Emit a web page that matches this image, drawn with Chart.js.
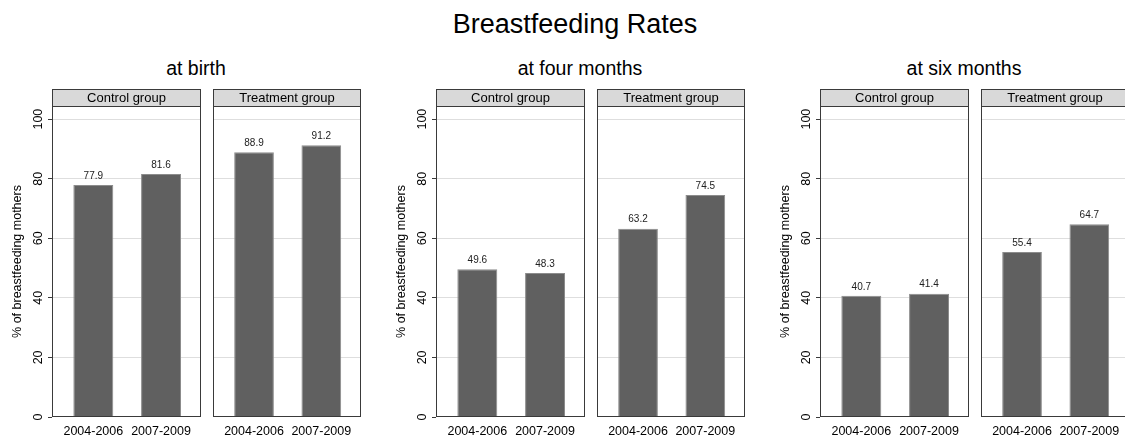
<!DOCTYPE html>
<html>
<head>
<meta charset="utf-8">
<title>Breastfeeding Rates</title>
<script src="https://cdn.jsdelivr.net/npm/chart.js@4.4.1/dist/chart.umd.min.js"></script>
<style>
  html, body { margin: 0; padding: 0; background: #fff; overflow: hidden; }
  body { width: 1125px; height: 436px; position: relative; font-family: "Liberation Sans", Arial, sans-serif; color: #000; }
  .title { position: absolute; white-space: nowrap; transform: translateX(-50%); line-height: 1; }
  canvas { position: absolute; }
</style>
</head>
<body>
<div class="title" style="left:575px; top:11px; font-size:27px;">Breastfeeding Rates</div>
<script>
const periods = ['2004-2006', '2007-2009'];
const groups = ['Control group', 'Treatment group'];
const panels = ['at birth', 'at four months', 'at six months'];
const controlRates = [[77.9, 81.6], [49.6, 48.3], [40.7, 41.4]];
const treatmentRates = [[88.9, 91.2], [63.2, 74.5], [55.4, 64.7]];
const yTicks = [0, 20, 40, 60, 80, 100];

const FONT = '"Liberation Sans", Arial, sans-serif';
Chart.defaults.font.family = FONT;
Chart.defaults.color = '#000';

// panel box + grey header strip
const panelFrame = {
    id: 'panelFrame',
    afterDraw(chart, args, opts) {
        const {ctx, chartArea: a} = chart;
        const l = Math.round(a.left) + 0.5, r = Math.round(a.right) - 0.5;
        const t = Math.round(a.top) + 0.5, b = Math.round(a.bottom) - 0.5;
        ctx.save();
        ctx.strokeStyle = '#3a3a3a';
        ctx.lineWidth = 1;
        ctx.strokeRect(l, t, r - l, b - t);
        ctx.fillStyle = '#d9d9d9';
        ctx.fillRect(l, 1.5, r - l, t - 1.5);
        ctx.strokeRect(l, 1.5, r - l, t - 1.5);
        ctx.fillStyle = '#000';
        ctx.font = '13px ' + FONT;
        ctx.textAlign = 'center';
        ctx.textBaseline = 'middle';
        ctx.fillText(opts.text, (l + r) / 2, (t + 1.5) / 2 + 0.5);
        ctx.restore();
    }
};

// numbers above the bars
const valueLabels = {
    id: 'valueLabels',
    afterDatasetsDraw(chart) {
        const {ctx} = chart;
        const ds = chart.data.datasets[0];
        ctx.save();
        ctx.fillStyle = '#222';
        ctx.font = '10px ' + FONT;
        ctx.textAlign = 'center';
        ctx.textBaseline = 'middle';
        chart.getDatasetMeta(0).data.forEach((bar, i) => {
            ctx.fillText(ds.data[i].y.toFixed(1), bar.x, bar.y - 9);
        });
        ctx.restore();
    }
};

function makeChart(left, width, rates, group, withAxis) {
    const canvas = document.createElement('canvas');
    canvas.width = width;
    canvas.height = 348;
    canvas.style.left = left + 'px';
    canvas.style.top = '88px';
    document.body.appendChild(canvas);

    new Chart(canvas, {
        type: 'bar',
        data: {
            datasets: [{
                data: rates.map((v, i) => ({x: i, y: v})),
                backgroundColor: '#606060',
                borderColor: '#8c8c8c',
                borderWidth: 1,
                barPercentage: 0.59,
                categoryPercentage: 1
            }]
        },
        options: {
            responsive: false,
            animation: false,
            devicePixelRatio: 1,
            layout: { padding: { top: 18, right: 1 } },
            plugins: {
                legend: { display: false },
                tooltip: { enabled: false },
                panelFrame: { text: group }
            },
            scales: {
                x: {
                    type: 'linear',
                    offset: false,
                    min: -0.61,
                    max: 1.59,
                    grid: { display: false },
                    border: { display: false },
                    afterBuildTicks: s => { s.ticks = periods.map((p, i) => ({value: i})); },
                    afterFit: s => { s.height = 19; },
                    ticks: {
                        callback: v => periods[v],
                        font: { size: 12.5 },
                        padding: -1,
                        maxRotation: 0,
                        autoSkip: false
                    }
                },
                y: {
                    min: 0,
                    max: 104.4,
                    border: { display: false },
                    afterBuildTicks: s => { s.ticks = yTicks.map(v => ({value: v})); },
                    afterFit: s => { s.width = withAxis ? 52 : 1; },
                    grid: {
                        color: c => (c.tick && c.tick.value === 0) ? 'rgba(0,0,0,0)' : '#dedede',
                        drawTicks: withAxis,
                        tickLength: 4,
                        tickColor: '#3a3a3a'
                    },
                    ticks: {
                        display: withAxis,
                        font: { size: 12.5 },
                        minRotation: 90,
                        maxRotation: 90,
                        crossAlign: 'center',
                        padding: -1
                    },
                    title: {
                        display: withAxis,
                        text: '% of breastfeeding mothers',
                        font: { size: 12.5 },
                        padding: { top: 10, bottom: 0 }
                    }
                }
            }
        },
        plugins: [panelFrame, valueLabels]
    });
}

panels.forEach((name, p) => {
    const off = p * 384;
    const t = document.createElement('div');
    t.className = 'title';
    t.style.left = (off + 196) + 'px';
    t.style.top = '59px';
    t.style.fontSize = '19.5px';
    t.textContent = name;
    document.body.appendChild(t);

    makeChart(off, 202, controlRates[p], groups[0], true);
    makeChart(off + 212, 150, treatmentRates[p], groups[1], false);
});
</script>
</body>
</html>
